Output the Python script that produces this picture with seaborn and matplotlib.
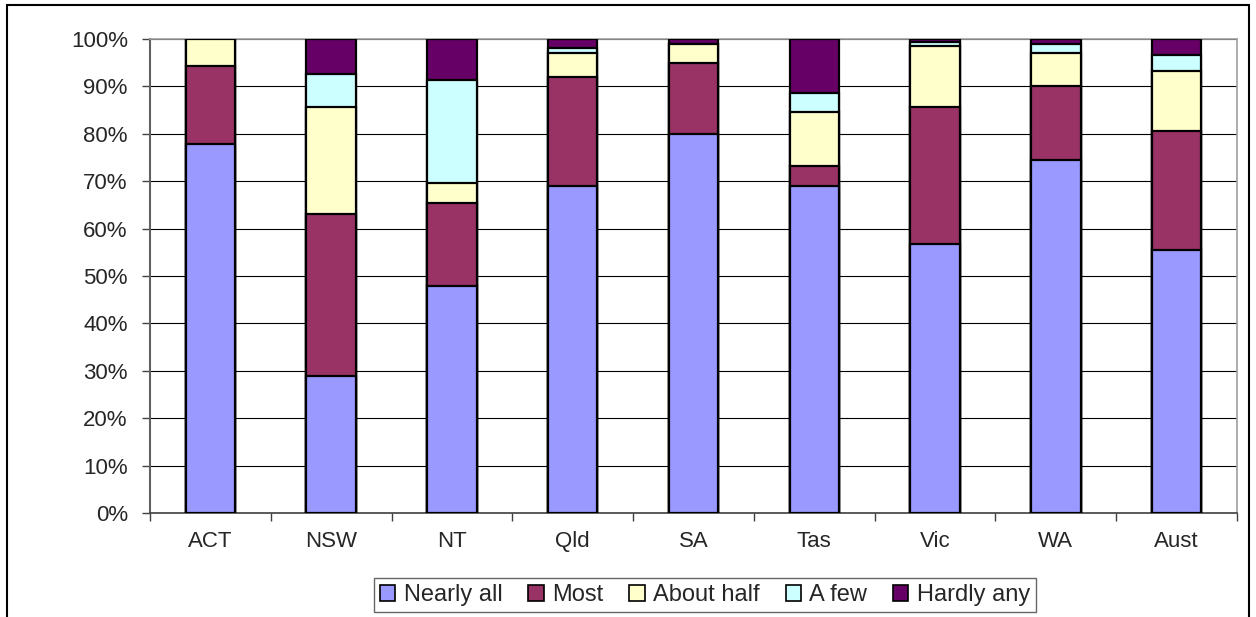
import matplotlib
matplotlib.use("Agg")
import matplotlib.pyplot as plt
import seaborn as sns
import pandas as pd
import numpy as np
from matplotlib.patches import Patch, Rectangle
from matplotlib.ticker import FixedLocator, PercentFormatter

# data (percent of respondents in each state)
regions = ["ACT", "NSW", "NT", "Qld", "SA", "Tas", "Vic", "WA", "Aust"]
nearly_all = [77.8, 29.0, 47.9, 69.0, 80.0, 69.0, 56.8, 74.5, 55.5]
most = [16.5, 34.0, 17.5, 23.0, 15.0, 4.2, 28.9, 15.6, 25.0]
about_half = [5.7, 22.7, 4.2, 5.0, 4.0, 11.3, 12.8, 6.9, 12.8]
a_few = [0.0, 7.0, 21.7, 1.0, 0.0, 4.2, 0.9, 1.9, 3.3]
hardly_any = [0.0, 7.3, 8.7, 2.0, 1.0, 11.3, 0.6, 1.1, 3.4]

series_names = ["Nearly all", "Most", "About half", "A few", "Hardly any"]
colors = ["#9999FF", "#993366", "#FFFFCC", "#CCFFFF", "#660066"]

df = pd.DataFrame({
    "region": regions,
    "Nearly all": nearly_all,
    "Most": most,
    "About half": about_half,
    "A few": a_few,
    "Hardly any": hardly_any,
})
vals = df[series_names]
df[series_names] = vals.div(vals.sum(axis=1), axis=0) * 100
cum = df[series_names].cumsum(axis=1)

sns.set_style("white")
plt.rcParams["font.family"] = ["Liberation Sans", "DejaVu Sans"]

fig = plt.figure(figsize=(12.56, 6.17), dpi=100)
ax = fig.add_axes([150 / 1256, 104 / 617, 1087 / 1256, 474 / 617])

# stacked bars: draw cumulative totals from top layer down
for name, col in reversed(list(zip(series_names, colors))):
    sns.barplot(x=df["region"], y=cum[name], color=col, saturation=1,
                width=0.41, edgecolor="black", linewidth=1.6, ax=ax,
                zorder=3, errorbar=None)

ax.set_ylim(0, 100)
ax.set_xlim(-0.5, len(regions) - 0.5)
ax.yaxis.set_major_locator(FixedLocator(np.arange(0, 101, 10)))
ax.yaxis.set_major_formatter(PercentFormatter(decimals=0))
ax.grid(axis="y", color="black", linewidth=0.8, zorder=0)
ax.set_axisbelow(True)
ax.set_xlabel("")
ax.set_ylabel("")

ax.xaxis.set_minor_locator(FixedLocator(np.arange(-0.5, len(regions), 1)))
ax.tick_params(axis="x", which="major", length=0, labelsize=16, pad=13)
ax.tick_params(axis="x", which="minor", length=6, width=1, color="#404040",
               direction="out", bottom=True)
ax.tick_params(axis="y", length=6, width=1, color="#404040", direction="out",
               labelsize=16, pad=10, left=True)

for side in ["top", "right"]:
    ax.spines[side].set_color("#A0A0A0")
    ax.spines[side].set_linewidth(1.2)
ax.spines["left"].set_color("#606060")
ax.spines["left"].set_linewidth(1.5)
ax.spines["bottom"].set_color("#404040")
ax.spines["bottom"].set_linewidth(1.2)

handles = [Patch(facecolor=c, edgecolor="black", linewidth=1.2, label=n)
           for n, c in zip(series_names, colors)]
leg = fig.legend(handles=handles, loc="center", bbox_to_anchor=(705 / 1256, 22 / 617),
                 ncol=5, fontsize=17, frameon=True, fancybox=False,
                 handlelength=0.65, handleheight=0.65, handletextpad=0.35,
                 columnspacing=1.1, borderpad=0.25, borderaxespad=0.3)
leg.get_frame().set_edgecolor("#404040")
leg.get_frame().set_linewidth(1.0)

# outer chart border
fig.patches.append(Rectangle((7 / 1256, -0.02), 1242 / 1256, 1.012,
                             transform=fig.transFigure, fill=False,
                             edgecolor="black", linewidth=1.5))

fig.savefig("out.png", dpi=100)
